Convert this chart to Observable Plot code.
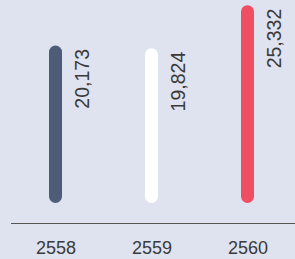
<!DOCTYPE html>
<html><head><meta charset="utf-8">
<script src="https://cdn.jsdelivr.net/npm/d3@7"></script>
<script src="https://cdn.jsdelivr.net/npm/@observablehq/plot@0.6"></script>
<style>html,body{margin:0;padding:0;background:#dfe3ef;overflow:hidden}</style>
</head><body><div id="chart"></div>
<script>
const years = ["2558", "2559", "2560"];
const values = [20173, 19824, 25332];
const colors = ["#4c5c79", "#ffffff", "#ef4f60"];
const labels = ["20,173", "19,824", "25,332"];

const data = years.map((year, i) => ({year, value: values[i], color: colors[i], label: labels[i]}));

const chart = Plot.plot({
  width: 295, height: 259,
  marginTop: 0, marginLeft: 11, marginRight: 0, marginBottom: 36,
  style: {background: "#dfe3ef", fontFamily: "'Liberation Sans', Arial, sans-serif", color: "#3a3a3a", overflow: "visible"},
  x: {domain: years, range: [7, 295], paddingInner: 0.865, paddingOuter: 0.4325, label: null},
  y: {domain: [0, 26000], range: [203, 0], axis: null},
  color: {type: "identity"},
  marks: [
    Plot.frame({anchor: "bottom", stroke: "#555"}),
    Plot.barY(data, {x: "year", y: "value", fill: "color", rx: 6.5}),
    Plot.text(data, {x: "year", y: "value", text: "label", rotate: -90, textAnchor: "end", lineAnchor: "middle", dx: 27, dy: 3, fontSize: 19.5, fill: "#3a3a3a"}),
    Plot.axisX({tickSize: 0, tickPadding: 17.5, fontSize: 18, label: null, fill: "#3a3a3a"})
  ]
});
document.getElementById("chart").appendChild(chart);
</script>
</body></html>
